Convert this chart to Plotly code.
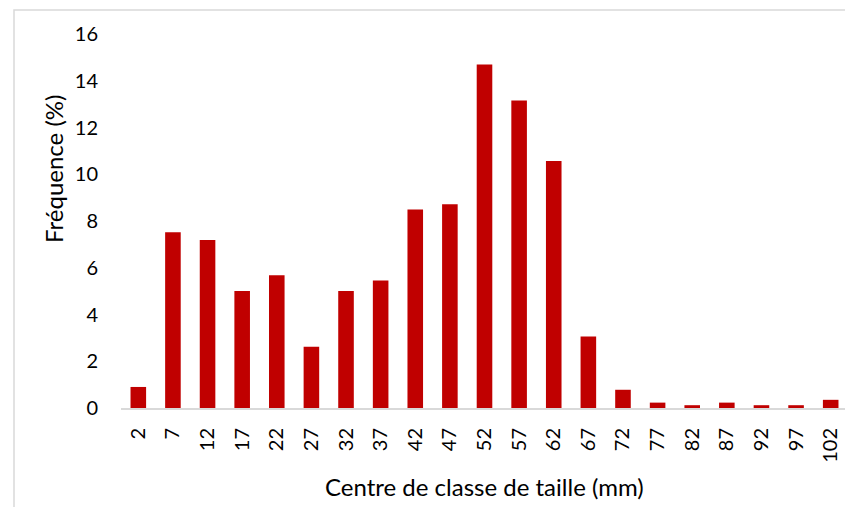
import plotly.graph_objects as go

categories = ["2", "7", "12", "17", "22", "27", "32", "37", "42", "47", "52",
              "57", "62", "67", "72", "77", "82", "87", "92", "97", "102"]
frequency = [0.9, 7.52, 7.19, 5.01, 5.68, 2.62, 5.01, 5.45, 8.49, 8.72, 14.7,
             13.16, 10.57, 3.06, 0.78, 0.23, 0.12, 0.23, 0.12, 0.12, 0.35]
y_ticks = [0, 2, 4, 6, 8, 10, 12, 14, 16]

FONT = "Lato, Carlito, Calibri, sans-serif"
OFF = 8  # page body margin
W, H = 853 - OFF, 507 - OFF
# screen coordinates of the plot area in the reference
SL, SR, ST, SB = 121, 848, 34, 408
L, T = SL - OFF, ST - OFF
R = W - (SR - OFF)
B = H - (SB - OFF)
pw, ph = W - L - R, H - T - B

def px_x(x):
    return (x - SL) / pw

def px_y(y):
    return (SB - y) / ph

fig = go.Figure(go.Bar(
    x=categories, y=frequency, marker=dict(color="#C00000", line=dict(width=0)),
    hoverinfo="x+y",
))

fig.update_layout(
    width=W, height=H,
    margin=dict(l=L, r=R, t=T, b=B, pad=0),
    paper_bgcolor="white", plot_bgcolor="white",
    bargap=0.55,
    showlegend=False,
    font=dict(family=FONT, size=20, color="#000000"),
    xaxis=dict(
        type="category", tickangle=-90, showgrid=False,
        showline=True, linecolor="#d9d9d9", linewidth=2,
        ticks="", tickfont=dict(size=20, family=FONT, color="#000000"),
        ticklabelstandoff=10,
    ),
    yaxis=dict(
        range=[0, 16], tickvals=y_ticks, showgrid=False, zeroline=False,
        showline=False, ticks="", tickfont=dict(size=20, family=FONT, color="#000000"),
        ticklabelstandoff=22,
    ),
    annotations=[
        dict(text="Fréquence (%)", xref="paper", yref="paper",
             x=px_x(53), y=px_y(169), textangle=-90, showarrow=False,
             xanchor="center", yanchor="middle",
             font=dict(size=24, family=FONT, color="#000000")),
        dict(text="Centre de classe de taille (mm)", xref="paper", yref="paper",
             x=px_x(484), y=px_y(486), showarrow=False,
             xanchor="center", yanchor="middle",
             font=dict(size=24, family=FONT, color="#000000")),
    ],
    shapes=[
        dict(type="rect", xref="paper", yref="paper",
             x0=px_x(14), x1=px_x(870), y0=px_y(10), y1=px_y(530),
             line=dict(color="#d9d9d9", width=1.5), fillcolor="rgba(0,0,0,0)",
             layer="below"),
    ],
)

fig.write_html("out.html")
